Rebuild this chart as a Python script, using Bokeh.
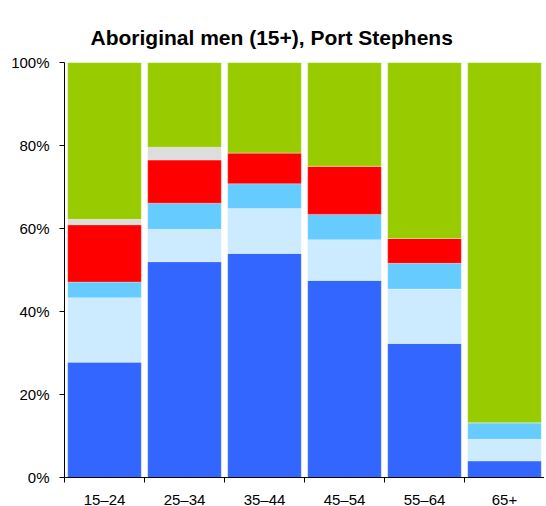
from bokeh.plotting import figure
from bokeh.models import Range1d, FixedTicker, PrintfTickFormatter, ColumnDataSource
from bokeh.embed import file_html
from bokeh.resources import INLINE

# ---- data (percent of each age group) ----
age_groups = ["15–24", "25–34", "35–44", "45–54", "55–64", "65+"]
seg_dark_blue = [27.8, 52.0, 54.0, 47.5, 32.3, 4.0]
seg_pale_blue = [15.5, 7.8, 10.8, 9.8, 13.1, 5.2]
seg_sky_blue = [3.8, 6.3, 6.0, 6.1, 6.2, 4.0]
seg_red = [13.8, 10.4, 7.4, 11.6, 6.0, 0.0]
seg_grey = [1.3, 3.1, 0.0, 0.0, 0.0, 0.0]
seg_green = [37.8, 20.4, 21.8, 25.0, 42.4, 86.8]
y_ticks = [0, 20, 40, 60, 80, 100]

series = ["dark_blue", "pale_blue", "sky_blue", "red", "grey", "green"]
colors = ["#3366FF", "#CCEBFF", "#66CCFF", "#FF0000", "#DDDDDD", "#99CC00"]

xpos = [i + 0.5 for i in range(len(age_groups))]
source = ColumnDataSource(dict(
    x=xpos,
    dark_blue=seg_dark_blue, pale_blue=seg_pale_blue, sky_blue=seg_sky_blue,
    red=seg_red, grey=seg_grey, green=seg_green,
))

FONT = "Liberation Sans"

p = figure(
    frame_width=480, frame_height=415,
    x_range=Range1d(0, len(age_groups)), y_range=Range1d(0, 100),
    output_backend="svg", toolbar_location=None,
    min_border_left=64, min_border_right=0, min_border_top=62, min_border_bottom=29,
    title="Aboriginal men (15+), Port Stephens",
)
p.title.text_font = FONT
p.title.text_font_size = "21px"
p.title.text_font_style = "bold"
p.title.align = "left"
p.title.offset = 26
p.title.standoff = 27
p.title.text_color = "black"

p.vbar_stack(series, x="x", width=0.92, source=source, fill_color=colors,
             line_color="white", line_alpha=0.25, line_width=1)

p.outline_line_color = None
p.grid.visible = False
p.background_fill_color = "white"
p.border_fill_color = "white"

# y axis
ya = p.yaxis[0]
ya.ticker = FixedTicker(ticks=y_ticks)
ya.formatter = PrintfTickFormatter(format="%d%%")
ya.minor_tick_line_color = None
ya.major_tick_in = 0
ya.major_tick_out = 5
ya.major_label_standoff = 10
ya.major_label_text_font = FONT
ya.major_label_text_font_size = "15px"
ya.major_label_text_color = "black"
ya.axis_line_color = "black"
ya.major_tick_line_color = "black"

# x axis: labels at bar centres, ticks at group boundaries
xa = p.xaxis[0]
xa.ticker = FixedTicker(ticks=xpos, minor_ticks=list(range(len(age_groups) + 1)))
xa.major_label_overrides = {x: lab for x, lab in zip(xpos, age_groups)}
xa.major_tick_line_color = None
xa.minor_tick_line_color = "black"
xa.minor_tick_in = 0
xa.minor_tick_out = 5
xa.major_label_standoff = 7
xa.major_label_text_font = FONT
xa.major_label_text_font_size = "15px"
xa.major_label_text_color = "black"
xa.axis_line_color = "black"

open("out.html", "w").write(file_html(p, INLINE))
